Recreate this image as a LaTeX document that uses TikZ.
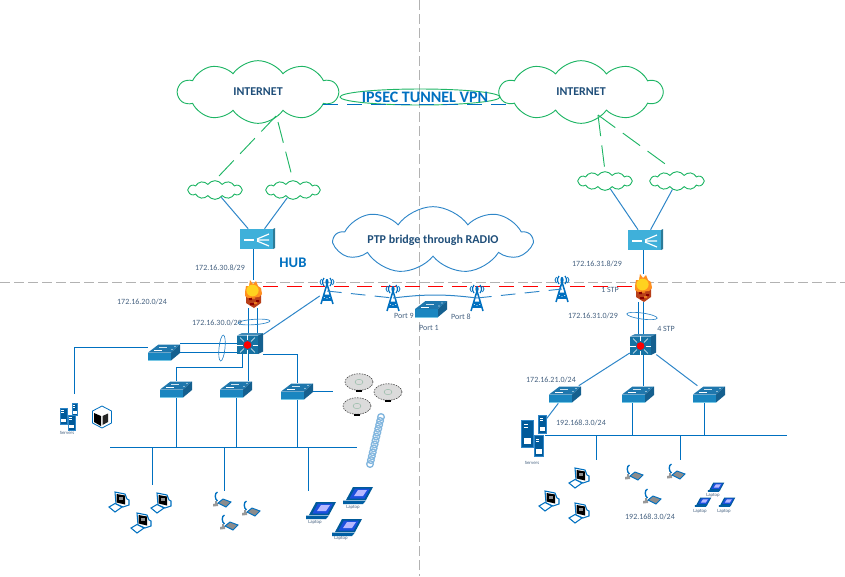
\documentclass[tikz,border=0pt]{standalone}
\usepackage{fontspec}
\setmainfont{Carlito}
\usetikzlibrary{positioning, shapes, shapes.geometric, shapes.symbols, calc, arrows.meta}

\definecolor{netgreen}{HTML}{1FB565}
\definecolor{netblue}{HTML}{0070C0}
\definecolor{cloudblue}{HTML}{2E86C8}
\definecolor{labelblue}{HTML}{44607F}
\definecolor{titleblue}{HTML}{1F4E79}
\definecolor{swtop}{HTML}{1F77AD}
\definecolor{swfront}{HTML}{1A86C0}
\definecolor{swside}{HTML}{15608F}
\definecolor{gwblue}{HTML}{3FB0DA}
\definecolor{brick}{HTML}{B8401A}
\definecolor{flame}{HTML}{FF8F1F}
\definecolor{flamecore}{HTML}{FFD21F}

\tikzset{
    swicon/.pic={
        \fill[swfront] (-16,0) -- (7,0) -- (7,8) -- (-16,8) -- cycle;
        \fill[swtop] (-16,0) -- (-5.5,-8) -- (16,-8) -- (7,0) -- cycle;
        \fill[swside] (7,0) -- (16,-8) -- (16,0.5) -- (7,8) -- cycle;
        \draw[gwblue!70, line width=0.6pt] (-16,8.3) -- (7,8.3);
        \draw[white, line width=0.7pt] (-10,-1.8) -- (-2,-1.8);
        \draw[white!80!swtop, line width=0.4pt] (-5,-5) -- (3,-5);
        \fill[white] (11,-6) circle [radius=0.5pt] (8,-3) circle [radius=0.5pt];
    },
    gwicon/.pic={
        \fill[gwblue] (-17.5,-10) rectangle (16,10);
        \fill[gwblue!70!black] (16,-10) -- (18,-11) -- (18,9) -- (16,10) -- cycle;
        \draw[white, line width=1.3pt] (-13,1) -- (-3,1);
        \draw[white, line width=0.9pt] (0,0) -- (12,-5) (0,1) -- (12,1) (0,2) -- (12,7);
    },
    coreicon/.pic={
        \fill[swfront!85!black] (-13,-8) rectangle (8,10.5);
        \fill[swtop!85!white] (-13,-8) -- (-8,-10.5) -- (13,-10.5) -- (8,-8) -- cycle;
        \fill[swside] (8,-8) -- (13,-10.5) -- (13,8) -- (8,10.5) -- cycle;
        \foreach \ang in {0,45,...,315}
            \draw[white, line width=0.5pt] (-2.5,1.5) ++(\ang:5) -- ++(\ang:5.5);
        \fill[red] (-2.5,1.5) circle [radius=2.9pt];
    },
    fwicon/.pic={
        \fill[brick] (-7,-2) -- (8,-2) -- (8,9) -- (1,14) -- (-7,9) -- cycle;
        \fill[red!55!black] (-4,4) rectangle (-1,6) (3,6) rectangle (6,8) (-3,9) rectangle (1,11);
        \fill[flame!70!brick] (-1,3) rectangle (2,5) (1,8) rectangle (4,10);
        \fill[flame] (-8,-2) -- (-7,-8) -- (-4,-8) -- (-3,-14) -- (0,-10) -- (3,-13) -- (5,-8) -- (8,-6) -- (9,0) -- (6,3) -- (-5,4) -- (-8,2) -- cycle;
        \fill[flamecore] (-0.5,-3.5) ellipse [x radius=4.6pt, y radius=4.4pt];
    },
    towericon/.pic={
        \draw[netblue, line width=1.15pt, line join=miter] (-6,13) -- (0,-7) -- (6,13) (-3.4,4.5) -- (3.4,4.5) (-4.6,9) -- (4.6,9) (-3.4,4.5) -- (4.6,9) (3.4,4.5) -- (-4.6,9);
        \fill[netblue] (0,-9) ellipse [x radius=1.2pt, y radius=2.4pt];
        \draw[netblue, line width=0.9pt] (-3,-13) .. controls (-5,-10) and (-5,-8) .. (-3,-5) (3,-13) .. controls (5,-10) and (5,-8) .. (3,-5);
        \draw[netblue, line width=0.6pt] (-5.5,-12) .. controls (-7.5,-10) and (-7.5,-8) .. (-5.5,-6) (5.5,-12) .. controls (7.5,-10) and (7.5,-8) .. (5.5,-6);
    },
    srvicon/.pic={
        \filldraw[fill=netblue!80!black, draw=cloudblue, line width=0.4pt] (-4,-9) rectangle (4,9);
        \fill[white] (-2.5,3) rectangle (2.5,7);
        \draw[white, line width=0.3pt] (-2.5,-6) -- (0,-6) (-2.5,-4) -- (0,-4);
    },
    hexicon/.pic={
        \filldraw[fill=white, draw=netblue, line width=0.6pt] (0,-11) -- (9.5,-6) -- (9.5,6) -- (0,11) -- (-9.5,6) -- (-9.5,-6) -- cycle;
        \fill[black] (-8,-4) -- (-1,-1) -- (-1,9) -- (-8,5) -- cycle;
        \fill[black!85] (0.5,-1) -- (6,-3.5) -- (6,5) -- (0.5,8) -- cycle;
    },
    pcicon/.pic={
        \filldraw[fill=white, draw=netblue, line width=0.8pt] (-4,-10) -- (6,-8) -- (8,-3) -- (10,-2) -- (10,3) -- (4,5) -- (-3,2) -- cycle;
        \fill[black] (-2.5,-8) -- (6,-6.5) -- (6,2.5) -- (-2.5,0.5) -- cycle;
        \fill[black!45] (0,-5) rectangle (3.5,-2);
        \filldraw[fill=white, draw=netblue, line width=0.8pt] (-10,5) -- (-4,1.5) -- (3,5) -- (-4,10) -- cycle;
    },
    phoneicon/.pic={
        \fill[black!40] (-8,1) -- (-3,0) -- (-3,3) -- (-8,3.5) -- cycle;
        \draw[black!40, line width=0.8pt] (-5,-2) -- (-5,1);
        \filldraw[fill=black!45, draw=netblue, line width=0.7pt] (-3,0) -- (2,-4) -- (10,-1) -- (5,4) -- cycle;
        \draw[netblue, line width=1pt] (-3.5,-11) .. controls (-6.5,-10) and (-6.5,-4) .. (-3.5,-2);
    },
    lapicon/.pic={
        \fill[netblue!80!black] (-5,-8) -- (15,-8) -- (8,5) -- (-12,5) -- cycle;
        \fill[blue!40!cloudblue] (-3,-6.5) -- (12,-6.5) -- (6.5,3.5) -- (-8.5,3.5) -- cycle;
        \fill[blue!28!white] (0,-5) -- (9,-5) -- (5,1) -- (-4,1) -- cycle;
        \fill[netblue!85!black] (-15,5.5) -- (8,5.5) -- (5,9) -- (-15,9) -- cycle;
    },
    apicon/.pic={
        \filldraw[fill=black!14, draw=black!80, line width=0.4pt, dash pattern=on 1.2pt off 0.8pt] (0,0) ellipse [x radius=10.5pt, y radius=6.2pt];
        \draw[netgreen!60!black!50, line width=0.3pt] (0,0) ellipse [x radius=3pt, y radius=2pt];
        \fill[black] (-3,8.3) rectangle (3,9.8);
    }
}

\begin{document}
\begin{tikzpicture}[
    x=0.75pt, y=-0.75pt,
    netcloud/.style={cloud, cloud ignores aspect, cloud puffs=10, cloud puff arc=110, draw=netgreen, line width=0.7pt, inner sep=0pt, text=titleblue, font=\bfseries\fontsize{9}{10}\selectfont},
    ptpcloud/.style={netcloud, draw=cloudblue, cloud puffs=9},
    smallcloud/.style={netcloud, cloud puffs=12, minimum width=41pt, minimum height=14pt},
    cidr/.style={text=labelblue, inner sep=0pt, font=\fontsize{6}{7}\selectfont},
    tiny/.style={text=labelblue, inner sep=0pt, font=\fontsize{3.6}{4}\selectfont},
    link/.style={draw=netblue, line width=0.75pt},
    inet/.style={draw=netgreen, line width=0.7pt, dash pattern=on 16pt off 7pt},
    radio/.style={draw=cloudblue, line width=0.7pt, dash pattern=on 11pt off 7pt},
    ring/.style={ellipse, draw=cloudblue, line width=0.5pt, inner sep=0pt},
    swbox/.style={inner sep=0pt, minimum width=24pt, minimum height=12.8pt},
    gwbox/.style={inner sep=0pt, minimum width=27pt, minimum height=15pt},
    corebox/.style={inner sep=0pt, minimum width=19.5pt, minimum height=16pt},
    fwbox/.style={inner sep=0pt, minimum width=12pt, minimum height=21pt},
    towerbox/.style={inner sep=0pt, minimum width=10.5pt, minimum height=20pt},
    srvbox/.style={inner sep=0pt, minimum width=6pt, minimum height=13.5pt},
    devbox/.style={inner sep=0pt, minimum size=15pt}
]
\useasboundingbox (0,0) rectangle (845,576);

% Zone borders
\coordinate (zonew) at (0,282);
\coordinate (zonee) at (845,282);
\coordinate (zonen) at (419,0);
\coordinate (zones) at (419,576);
\draw[black!30, line width=0.6pt, dash pattern=on 7.5pt off 3pt] (zonew) -- (zonee);
\draw[black!30, line width=0.6pt, dash pattern=on 7.5pt off 3pt] (zonen) -- (zones);

% Clouds
\node[netcloud, minimum width=120pt, minimum height=47pt] (netl) at (258,92) {INTERNET};
\node[netcloud, minimum width=122pt, minimum height=47pt] (netr) at (581,92) {INTERNET};
\node[smallcloud] (cl1) at (215,190) {};
\node[smallcloud] (cl2) at (293,190) {};
\node[smallcloud] (cr1) at (605,181) {};
\node[smallcloud] (cr2) at (677,181) {};
\node[ptpcloud, minimum width=148pt, minimum height=50pt] (ptp) at (433,240) {PTP bridge through RADIO};

% Tunnel
\node[ellipse, draw=netgreen, line width=0.7pt, inner sep=0pt, minimum width=120pt, minimum height=12pt] (vpnring) at (420,97) {};
\coordinate (tunl) at (323,104);
\coordinate (tunr) at (510,104);
\draw[link, dash pattern=on 11pt off 7pt] (tunl) -- (tunr);
\node[text=netblue, font=\bfseries\fontsize{12}{13}\selectfont, inner sep=0pt] (vpnlabel) at (425,97) {IPSEC TUNNEL VPN};

% Radio link
\coordinate (redl) at (263,286);
\coordinate (redr) at (633,286);
\draw[red, line width=0.7pt, dash pattern=on 11.2pt off 6.5pt] (redl) -- (redr);

% Devices
\foreach \name/\px/\py in {sw0/164/352.5, sw1/176/389.5, sw2/236/389.5, sw3/297/391.5, swp/431/309, swr1/565/394.5, swr2/638/394.5, swr3/709/394.5} {
    \node[swbox] (\name) at (\px,\py) {};
    \pic at (\name) {swicon};
}
\foreach \name/\px/\py in {gwl/257/239, gwr/645/240} {
    \node[gwbox] (\name) at (\px,\py) {};
    \pic at (\name) {gwicon};
}
\foreach \name/\px/\py in {corel/250/343.5, corer/643/344.5} {
    \node[corebox] (\name) at (\px,\py) {};
    \pic at (\name) {coreicon};
}
\foreach \name/\px/\py in {fwl/253/294, fwr/643/288} {
    \node[fwbox] (\name) at (\px,\py) {};
    \pic at (\name) {fwicon};
}
\foreach \name/\px/\py in {tw1/327/291, tw2/393/298, tw3/477/298, tw4/562/289} {
    \node[towerbox] (\name) at (\px,\py) {};
    \pic at (\name) {towericon};
}
\foreach \name/\px/\py in {apa/359/382, apb/388/392, apc/357/406} {
    \node[devbox, minimum width=21pt] (\name) at (\px,\py) {};
    \pic at (\name) {apicon};
}
\foreach \name/\px/\py in {pcla/119/502, pclb/161/503, pclc/141/523, pcra/579/478, pcrb/549/501, pcrc/579/513} {
    \node[devbox] (\name) at (\px,\py) {};
    \pic at (\name) {pcicon};
}
\foreach \name/\px/\py in {phla/221/503, phlb/250/512, phlc/228/526, phra/633/476, phrb/675/475, phrc/651/500} {
    \node[devbox] (\name) at (\px,\py) {};
    \pic at (\name) {phoneicon};
}
\foreach \name/\px/\py in {lapla/321/510, laplb/358/495, laplc/347/527} {
    \node[devbox] (\name) at (\px,\py) {};
    \pic at (\name) {lapicon};
}
\foreach \name/\px/\py in {lapra/716/487, laprb/703/502, laprc/727/502} {
    \node[devbox, minimum size=8pt] (\name) at (\px,\py) {};
    \pic[scale=0.55] at (\name) {lapicon};
}

% Servers
\node[srvbox] (srvlb) at (75,409.5) {};
\pic[scale=0.65] at (srvlb) {srvicon};
\node[srvbox] (srvla) at (63.5,416) {};
\pic[scale=0.9] at (srvla) {srvicon};
\node[srvbox] (srvlc) at (71.5,422.5) {};
\pic[scale=0.85] at (srvlc) {srvicon};
\node[devbox] (hexl) at (102,417) {};
\pic at (hexl) {hexicon};
\node[srvbox] (srvrb) at (542.5,424) {};
\pic at (srvrb) {srvicon};
\node[srvbox] (srvra) at (527.5,433.5) {};
\pic[scale=1.5] at (srvra) {srvicon};
\node[srvbox] (srvrc) at (539,446) {};
\pic[scale=1.15] at (srvrc) {srvicon};

% Wireless chain
\coordinate (coila) at (381,417);
\coordinate (coilb) at (370,464);
\foreach \i in {0,...,12}
    \draw[cloudblue!60, line width=1pt] ($(coila)!\i/12!(coilb)$) circle [radius=2.5pt];

% Internet uplinks
\coordinate (netlfoot) at (276,116);
\coordinate (netlfoot2) at (278,122);
\coordinate (netrfoot) at (598,115);
\coordinate (cr2top) at (668,166);
\draw[inet] (netlfoot) -- (cl1.north);
\draw[inet] (netlfoot2) -- (cl2.north);
\draw[inet] (netrfoot) -- (cr1.north);
\draw[inet] (netrfoot) -- (cr2top);

% Gateway links
\draw[link, draw=cloudblue] (cl1) -- (gwl);
\draw[link, draw=cloudblue] (cl2) -- (gwl);
\draw[link, draw=cloudblue] (cr1) -- (gwr);
\draw[link, draw=cloudblue] (cr2) -- (gwr);
\draw[link] (fwl.north |- gwl.south) -- (fwl.north);
\draw[link] (fwr.north |- gwr.south) -- (fwr.north);

% Hub site links
\draw[link] ([xshift=-3.6pt]fwl.south) -- ([xshift=-3.6pt]fwl.south |- corel.north);
\draw[link] ([xshift=3.2pt]fwl.south) -- ([xshift=3.2pt]fwl.south |- corel.north);
\draw[link] (corel.west) -- (corel.west -| sw0.east);
\draw[link] ([yshift=-7pt]corel.west) -- ([yshift=-7pt]corel.west -| sw0.east);
\coordinate (srvdrop) at (74,394);
\draw[link] (srvdrop) |- ([yshift=4pt]sw0.west);
\draw[link] ([xshift=-6pt]corel.south) -- ++(0,13) -| (sw1.north);
\draw[link] ([xshift=-1.5pt]corel.south) -- ([xshift=-1.5pt]corel.south |- sw2.north);
\draw[link] ([yshift=-8.5pt]corel.east) -| (sw3.north);
\draw[link, draw=cloudblue] (corel) -- (tw1);
\draw[link, shorten >=9pt] (sw3.east) -- (apa.west |- sw3.east);

\coordinate (busl) at (110,447);
\coordinate (busr) at (357,447);
\draw[link] (busl) -- (busr);
\draw[link] (sw1.south) -- (sw1.south |- busl);
\draw[link] (sw2.south) -- (sw2.south |- busl);
\draw[link] (sw3.south) -- (sw3.south |- busl);
\coordinate (pcdropl) at (152,485);
\coordinate (phdropl) at (224,491);
\coordinate (lapdropl) at (308,491);
\draw[link] (pcdropl |- busl) -- (pcdropl);
\draw[link] (phdropl |- busl) -- (phdropl);
\draw[link] (lapdropl |- busl) -- (lapdropl);

% Bridge links
\draw[radio] (tw1.center) -- (tw2.center);
\draw[link, draw=cloudblue] (tw2.center) to[bend left=7] (tw3.center);
\draw[radio] (tw3.center) -- (tw4.center);

% Branch site links
\draw[link] ([xshift=-3.7pt]fwr.south) -- ([xshift=-3.7pt]fwr.south |- corer.north);
\draw[link] ([xshift=0.7pt]fwr.south) -- ([xshift=0.7pt]fwr.south |- corer.north);
\draw[link, draw=cloudblue] (corer) -- (swr1);
\draw[link] (corer.south) -- (corer.south |- swr2.north);
\draw[link, draw=cloudblue] (corer) -- (swr3);
\draw[link, draw=cloudblue] (swr1) -- (srvrb);

\coordinate (busrl) at (545,435);
\coordinate (busrr) at (787,435);
\draw[link] (busrl) -- (busrr);
\draw[link] ([xshift=-4.5pt]swr2.south) -- ([xshift=-4.5pt]swr2.south |- busrl);
\draw[link] ([xshift=-3.7pt]swr3.south) -- ([xshift=-3.7pt]swr3.south |- busrl);
\coordinate (pcdropr) at (596,460);
\coordinate (phdropr) at (680,460);
\draw[link] (pcdropr |- busrl) -- (pcdropr);
\draw[link] (phdropr |- busrl) -- (phdropr);

% Bundles
\node[ring, minimum width=24pt, minimum height=4pt, rotate=4] (bundlea) at (254,322) {};
\node[ring, minimum width=4.5pt, minimum height=19.5pt, rotate=-6] (bundleb) at (222,348) {};
\node[ring, minimum width=23pt, minimum height=4.5pt, rotate=-8] (bundlec) at (642,316) {};

% Labels
\node[font=\bfseries\fontsize{11}{12}\selectfont, text=netblue, inner sep=0pt] (hublabel) at (293,263) {HUB};
\node[cidr] (ipa) at (220,268) {172.16.30.8/29};
\node[cidr] (ipb) at (142,302) {172.16.20.0/24};
\node[cidr] (ipc) at (217,323) {172.16.30.0/29};
\node[cidr] (ipd) at (597,264) {172.16.31.8/29};
\node[cidr] (ipe) at (593,316) {172.16.31.0/29};
\node[cidr] (ipf) at (551,380) {172.16.21.0/24};
\node[cidr] (ipg) at (581,423) {192.168.3.0/24};
\node[cidr] (iph) at (650,517) {192.168.3.0/24};
\node[cidr] (stpa) at (610,290) {1 STP};
\node[cidr] (stpb) at (666,329) {4 STP};
\node[cidr] (porta) at (404,316) {Port 9};
\node[cidr] (portb) at (429,328) {Port 1};
\node[cidr] (portc) at (461,317) {Port 8};
\node[tiny] (srvltext) at (67,433) {Servers};
\node[tiny] (srvrtext) at (532,463) {Servers};
\node[tiny] (lapta) at (315,522) {Laptop};
\node[tiny] (laptb) at (353,507) {Laptop};
\node[tiny] (laptc) at (341,538) {Laptop};
\node[tiny] (laptd) at (713,495) {Laptop};
\node[tiny] (lapte) at (700,511) {Laptop};
\node[tiny] (laptf) at (724,511) {Laptop};

\end{tikzpicture}
\end{document}
